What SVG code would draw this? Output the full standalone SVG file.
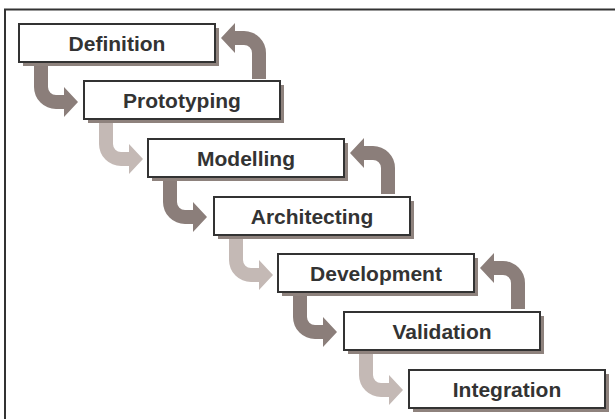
<svg xmlns="http://www.w3.org/2000/svg" xmlns:xlink="http://www.w3.org/1999/xlink" width="615" height="419" viewBox="0 0 615 419">
<style>
.shadow{fill:#8e827d}
.box{fill:#ffffff;stroke:#333333;stroke-width:2}
.lbl{font-family:"Liberation Sans",Arial,sans-serif;font-weight:bold;font-size:21px;fill:#333333;text-anchor:middle}
.dark{fill:#8b7e7a}
.light{fill:#c4b9b5}
.frame{fill:none;stroke:#333333;stroke-width:2}
</style>
<defs>
<path id="dn" d="M15,42 H29 V63 A8,8 0 0 0 37,71 H45 V63 L59,78 L45,93 V85 H37 A22,22 0 0 1 15,63 Z"/>
<path id="up" d="M233,55 H247 V29 A22,22 0 0 0 225,7 H216 V-1 L202,14 L216,29 V21 H225 A8,8 0 0 1 233,29 Z"/>
</defs>
<rect width="615" height="419" fill="#ffffff"/>
<path class="frame" d="M5,419 V9.5 H615"/>
<g id="connectors">
<use xlink:href="#dn" class="dark" transform="translate(19,24)"/>
<use xlink:href="#dn" class="light" transform="translate(84,81)"/>
<use xlink:href="#dn" class="dark" transform="translate(148,139)"/>
<use xlink:href="#dn" class="light" transform="translate(214,197)"/>
<use xlink:href="#dn" class="dark" transform="translate(278,254)"/>
<use xlink:href="#dn" class="light" transform="translate(344,312)"/>
<use xlink:href="#up" class="dark" transform="translate(19,24)"/>
<use xlink:href="#up" class="dark" transform="translate(148,139)"/>
<use xlink:href="#up" class="dark" transform="translate(278,254)"/>
</g>
<g id="definition">
<rect class="shadow" x="23" y="28" width="196" height="38"/>
<rect class="box" x="19" y="24" width="196" height="38"/>
<text class="lbl" x="117" y="50.5">Definition</text>
</g>
<g id="prototyping">
<rect class="shadow" x="88" y="85" width="196" height="38"/>
<rect class="box" x="84" y="81" width="196" height="38"/>
<text class="lbl" x="182" y="107.5">Prototyping</text>
</g>
<g id="modelling">
<rect class="shadow" x="152" y="143" width="196" height="38"/>
<rect class="box" x="148" y="139" width="196" height="38"/>
<text class="lbl" x="246" y="165.5">Modelling</text>
</g>
<g id="architecting">
<rect class="shadow" x="218" y="201" width="196" height="38"/>
<rect class="box" x="214" y="197" width="196" height="38"/>
<text class="lbl" x="312" y="223.5">Architecting</text>
</g>
<g id="development">
<rect class="shadow" x="282" y="258" width="196" height="38"/>
<rect class="box" x="278" y="254" width="196" height="38"/>
<text class="lbl" x="376" y="280.5">Development</text>
</g>
<g id="validation">
<rect class="shadow" x="348" y="316" width="196" height="38"/>
<rect class="box" x="344" y="312" width="196" height="38"/>
<text class="lbl" x="442" y="338.5">Validation</text>
</g>
<g id="integration">
<rect class="shadow" x="413" y="374" width="196" height="38"/>
<rect class="box" x="409" y="370" width="196" height="38"/>
<text class="lbl" x="507" y="396.5">Integration</text>
</g>
</svg>
